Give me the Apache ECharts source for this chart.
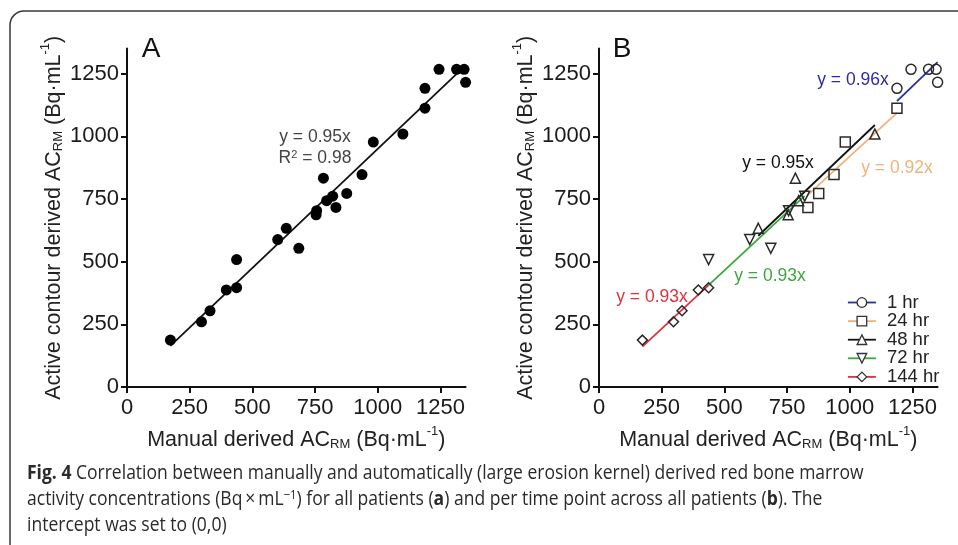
<!DOCTYPE html>
<html>
<head>
<meta charset="utf-8">
<script src="https://cdn.jsdelivr.net/npm/echarts@6/dist/echarts.min.js"></script>
<style>html,body{margin:0;padding:0;background:#fff;}#c{width:958px;height:545px;}</style>
</head>
<body>
<div id="c"></div>
<script>
// ---- data ----
const groupNames = ['1 hr', '24 hr', '48 hr', '72 hr', '144 hr'];
const manual1   = [1188, 1244, 1314, 1344, 1350];
const auto1     = [1191, 1267, 1267, 1267, 1215];
const manual24  = [833, 876, 937, 982, 1188];
const auto24    = [716, 772, 847, 977, 1112];
const manual48  = [635, 754, 783, 796, 1100];
const auto48    = [633, 687, 833, 743, 1009];
const manual72  = [437, 601, 685, 756, 820];
const auto72    = [508, 588, 553, 703, 761];
const manual144 = [173, 297, 331, 396, 437];
const auto144   = [187, 260, 304, 387, 396];
const groupSlopes = [0.96, 0.92, 0.95, 0.93, 0.93];
const slopeAll = 0.95;
const r2All = 0.98;
const tickValues = [0, 250, 500, 750, 1000, 1250];

// ---- styling ----
const FONT = 'Liberation Sans, Arial, sans-serif';
const CAPFONT = 'Open Sans, Liberation Sans, sans-serif';
const lineColors = ['#2b2ba6', '#f0b27c', '#111111', '#3aa83a', '#e2303c'];
const symbols = ['circle', 'rect', 'triangle', 'path://M0,0L2,0L1,1.732Z', 'diamond'];
const symSizes = [10, 10, 10, 10, 10];

const manuals = [manual1, manual24, manual48, manual72, manual144];
const autos = [auto1, auto24, auto48, auto72, auto144];
const pairs = (xs, ys) => xs.map((x, i) => [x, ys[i]]);
const allPts = [].concat(...manuals.map((m, i) => pairs(m, autos[i])));
const fitLine = (xs, k) => { const lo = Math.min(...xs), hi = Math.max(...xs); return [[lo, k * lo], [hi, k * hi]]; };

const titleRich = {
  t: { fontSize: 21.5, fontFamily: FONT, color: '#222', lineHeight: 26, verticalAlign: 'bottom' },
  sub: { fontSize: 13, fontFamily: FONT, color: '#222', lineHeight: 13, verticalAlign: 'bottom' },
  sup: { fontSize: 13, fontFamily: FONT, color: '#222', lineHeight: 13, verticalAlign: 'top' }
};
const xName = '{t|Manual derived AC}{sub|RM}{t| (Bq·mL}{sup|-1}{t|)}';
const yName = '{t|Active contour derived AC}{sub|RM}{t| (Bq·mL}{sup|-1}{t|)}';

function mkX(gi) {
  return {
    gridIndex: gi, type: 'value', min: 0, max: 1350, interval: 250,
    name: xName, nameLocation: 'middle', nameGap: 38,
    nameTextStyle: { rich: titleRich },
    axisLine: { onZero: false, lineStyle: { color: '#111', width: 2 } },
    axisTick: { length: 6, lineStyle: { color: '#111', width: 2 }, customValues: tickValues },
    axisLabel: { fontSize: 22, fontFamily: FONT, color: '#1a1a1a', margin: 10, customValues: tickValues,
                 formatter: v => String(v) },
    splitLine: { show: false }
  };
}
function mkY(gi) {
  return {
    gridIndex: gi, type: 'value', min: 0, max: 1350, interval: 250,
    name: yName, nameLocation: 'middle', nameGap: 62, nameRotate: 90,
    nameTextStyle: { rich: titleRich },
    axisLine: { onZero: false, lineStyle: { color: '#111', width: 2 } },
    axisTick: { length: 6, lineStyle: { color: '#111', width: 2 }, customValues: tickValues },
    axisLabel: { fontSize: 22, fontFamily: FONT, color: '#1a1a1a', margin: 8, customValues: tickValues,
                 formatter: v => String(v) },
    splitLine: { show: false }
  };
}

const series = [];
// Panel A
series.push({
  type: 'line', name: 'fitA', xAxisIndex: 0, yAxisIndex: 0,
  data: fitLine(allPts.map(p => p[0]), slopeAll), showSymbol: false, symbol: 'none',
  lineStyle: { color: '#111', width: 1.8 }, z: 2, silent: true
});
series.push({
  type: 'scatter', name: 'ptsA', xAxisIndex: 0, yAxisIndex: 0, data: allPts,
  symbol: 'circle', symbolSize: 11, itemStyle: { color: '#000', opacity: 1 }, z: 3
});
// Panel B
groupNames.forEach((g, i) => {
  series.push({
    type: 'line', name: g, xAxisIndex: 1, yAxisIndex: 1,
    data: fitLine(manuals[i], groupSlopes[i]),
    symbol: symbols[i], symbolSize: symSizes[i], showSymbol: false,
    itemStyle: { color: '#fff', borderColor: '#333', borderWidth: 1.3 },
    lineStyle: { color: lineColors[i], width: 1.8 }, z: 2
  });
});
groupNames.forEach((g, i) => {
  series.push({
    type: 'scatter', name: g + ' points', xAxisIndex: 1, yAxisIndex: 1,
    data: pairs(manuals[i], autos[i]),
    symbol: symbols[i], symbolSize: symSizes[i],
    itemStyle: { color: 'rgba(255,255,255,0)', borderColor: '#2a2a2a', borderWidth: 1.5, opacity: 1 }, z: 3
  });
});

const annot = (txt, x, y, color, size) => ({
  type: 'text', x: x, y: y,
  style: { text: txt, fill: color, font: size + 'px ' + FONT, align: 'center', verticalAlign: 'middle' }
});

const capRich = {
  b: { fontFamily: CAPFONT, fontWeight: 'bold', fontSize: 20, color: '#2a2a2a' },
  sup: { fontFamily: CAPFONT, fontSize: 13, color: '#2a2a2a', verticalAlign: 'top', lineHeight: 12 }
};
const CAP_SCALE = 0.876;
const capLine = (txt, y) => ({
  type: 'text', x: 27, y: y, scaleX: CAP_SCALE,
  style: { text: txt, rich: capRich, fontFamily: CAPFONT, fontSize: 20, fill: '#2a2a2a', verticalAlign: 'middle', align: 'left' }
});

const option = {
  animation: false,
  backgroundColor: '#fff',
  grid: [
    { left: 127, top: 48.5, width: 338.6, height: 338.5 },
    { left: 599, top: 48.5, width: 338.6, height: 338.5 }
  ],
  xAxis: [mkX(0), mkX(1)],
  yAxis: [mkY(0), mkY(1)],
  legend: {
    data: groupNames, orient: 'vertical', left: 847, top: 293, padding: 0,
    itemWidth: 28, itemHeight: 12, itemGap: -0.4,
    textStyle: { fontSize: 18.5, fontFamily: FONT, color: '#222', padding: [0, 0, 0, 6] },
    itemStyle: { borderWidth: 1.3, borderColor: '#333', color: '#fff' },
    lineStyle: { width: 1.8 },
    selectedMode: false
  },
  series: series,
  graphic: [
    { type: 'rect', shape: { x: 10, y: 11, width: 1000, height: 600, r: 14 },
      style: { fill: 'none', stroke: '#3a3a3a', lineWidth: 1.5 }, silent: true, z: -1 },
    annot('A', 151, 49, '#111', 28),
    annot('B', 622, 49, '#111', 28),
    annot('y = 0.95x', 315, 137, '#444', 17.5),
    { type: 'text', x: 315, y: 158,
      style: { text: 'R{s|2} = 0.98', rich: { s: { fontSize: 11, fontFamily: FONT, color: '#444', verticalAlign: 'top', lineHeight: 10 } },
               fill: '#444', fontSize: 17.5, fontFamily: FONT, align: 'center', verticalAlign: 'middle' } },
    annot('y = 0.96x', 853, 80, lineColors[0], 17.5),
    annot('y = 0.95x', 778, 163, '#111', 17.5),
    annot('y = 0.92x', 897, 168, lineColors[1], 17.5),
    annot('y = 0.93x', 770, 276, lineColors[3], 17.5),
    annot('y = 0.93x', 652, 297, lineColors[4], 17.5),
    capLine('{b|Fig. 4} Correlation between manually and automatically (large erosion kernel) derived red bone marrow', 473),
    capLine('activity concentrations (Bq\u2009\u00d7\u2009mL{sup|\u22121}) for all patients ({b|a}) and per time point across all patients ({b|b}). The', 499),
    capLine('intercept was set to (0,0)', 525)
  ]
};

const chart = echarts.init(document.getElementById('c'), null, { renderer: 'canvas' });
chart.setOption(option);
</script>
</body>
</html>
